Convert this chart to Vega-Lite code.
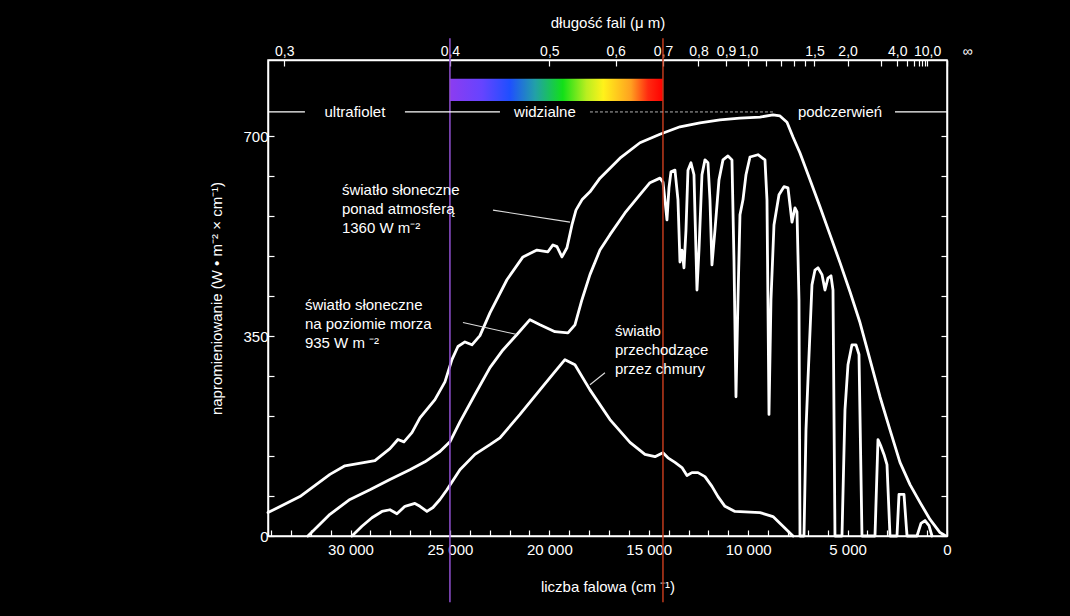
{
  "$schema": "https://vega.github.io/schema/vega-lite/v6.json",
  "width": 679,
  "height": 476,
  "autosize": {"type": "none"},
  "padding": {"left": 268, "top": 60, "right": 123, "bottom": 80},
  "background": "black",
  "config": {
    "view": {"stroke": "white", "strokeWidth": 1.5},
    "font": "Liberation Sans",
    "axis": {"domainColor": "white", "domainWidth": 1.5, "tickColor": "white", "tickWidth": 1.2, "labelColor": "white", "titleColor": "white", "labelFontSize": 15, "titleFontSize": 15, "titleFontWeight": "normal", "grid": false, "labelFont": "Liberation Sans", "titleFont": "Liberation Sans", "labelOverlap": false, "labelFlush": false}
  },
  "datasets": {
    "curves": [
      {"s":"atm","k":34150,"v":41},{"s":"atm","k":32544,"v":69},{"s":"atm","k":31035,"v":108},{"s":"atm","k":30281,"v":123},{"s":"atm","k":28772,"v":132},{"s":"atm","k":28017,"v":153},{"s":"atm","k":27615,"v":169},{"s":"atm","k":27313,"v":165},{"s":"atm","k":26911,"v":181},{"s":"atm","k":26508,"v":207},{"s":"atm","k":25754,"v":239},{"s":"atm","k":25251,"v":270},{"s":"atm","k":24899,"v":309},{"s":"atm","k":24597,"v":332},{"s":"atm","k":24245,"v":340},{"s":"atm","k":23893,"v":335},{"s":"atm","k":23490,"v":351},{"s":"atm","k":22987,"v":391},{"s":"atm","k":22132,"v":449},{"s":"atm","k":21327,"v":489},{"s":"atm","k":20623,"v":501},{"s":"atm","k":20070,"v":498},{"s":"atm","k":19818,"v":510},{"s":"atm","k":19617,"v":507},{"s":"atm","k":19366,"v":489},{"s":"atm","k":19114,"v":505},{"s":"atm","k":18863,"v":545},{"s":"atm","k":18661,"v":571},{"s":"atm","k":18360,"v":589},{"s":"atm","k":17957,"v":603},{"s":"atm","k":17454,"v":627},{"s":"atm","k":16448,"v":662},{"s":"atm","k":15442,"v":689},{"s":"atm","k":14436,"v":704},{"s":"atm","k":13430,"v":717},{"s":"atm","k":12424,"v":724},{"s":"atm","k":11418,"v":729},{"s":"atm","k":10412,"v":732},{"s":"atm","k":9406,"v":734},{"s":"atm","k":8752,"v":738},{"s":"atm","k":8400,"v":736},{"s":"atm","k":8048,"v":725},{"s":"atm","k":7746,"v":699},{"s":"atm","k":7394,"v":671},{"s":"atm","k":6891,"v":624},{"s":"atm","k":6388,"v":577},{"s":"atm","k":5885,"v":528},{"s":"atm","k":5382,"v":479},{"s":"atm","k":4879,"v":428},{"s":"atm","k":4376,"v":374},{"s":"atm","k":3873,"v":309},{"s":"atm","k":3370,"v":244},{"s":"atm","k":2867,"v":186},{"s":"atm","k":2364,"v":129},{"s":"atm","k":1861,"v":90},{"s":"atm","k":1358,"v":59},{"s":"atm","k":855,"v":29},{"s":"atm","k":352,"v":6},{"s":"atm","k":100,"v":1},
      {"s":"sea","k":32142,"v":0},{"s":"sea","k":31035,"v":38},{"s":"sea","k":30029,"v":64},{"s":"sea","k":29023,"v":81},{"s":"sea","k":28017,"v":99},{"s":"sea","k":27011,"v":116},{"s":"sea","k":26257,"v":130},{"s":"sea","k":25502,"v":148},{"s":"sea","k":24999,"v":165},{"s":"sea","k":24496,"v":200},{"s":"sea","k":23742,"v":248},{"s":"sea","k":22987,"v":295},{"s":"sea","k":22333,"v":326},{"s":"sea","k":21629,"v":353},{"s":"sea","k":20975,"v":379},{"s":"sea","k":20472,"v":370},{"s":"sea","k":19718,"v":358},{"s":"sea","k":19064,"v":356},{"s":"sea","k":18712,"v":370},{"s":"sea","k":18360,"v":414},{"s":"sea","k":17957,"v":458},{"s":"sea","k":17454,"v":501},{"s":"sea","k":16951,"v":528},{"s":"sea","k":16197,"v":566},{"s":"sea","k":15442,"v":598},{"s":"sea","k":14939,"v":619},{"s":"sea","k":14436,"v":627},{"s":"sea","k":14285,"v":620},{"s":"sea","k":14185,"v":589},{"s":"sea","k":14084,"v":554},{"s":"sea","k":13983,"v":610},{"s":"sea","k":13883,"v":638},{"s":"sea","k":13682,"v":641},{"s":"sea","k":13531,"v":589},{"s":"sea","k":13430,"v":480},{"s":"sea","k":13330,"v":501},{"s":"sea","k":13229,"v":470},{"s":"sea","k":13128,"v":536},{"s":"sea","k":13028,"v":641},{"s":"sea","k":12877,"v":654},{"s":"sea","k":12726,"v":633},{"s":"sea","k":12575,"v":431},{"s":"sea","k":12474,"v":501},{"s":"sea","k":12324,"v":633},{"s":"sea","k":12173,"v":659},{"s":"sea","k":12022,"v":654},{"s":"sea","k":11921,"v":589},{"s":"sea","k":11821,"v":475},{"s":"sea","k":11670,"v":536},{"s":"sea","k":11468,"v":624},{"s":"sea","k":11267,"v":659},{"s":"sea","k":11016,"v":666},{"s":"sea","k":10815,"v":659},{"s":"sea","k":10714,"v":484},{"s":"sea","k":10613,"v":244},{"s":"sea","k":10513,"v":414},{"s":"sea","k":10412,"v":563},{"s":"sea","k":10261,"v":589},{"s":"sea","k":10110,"v":633},{"s":"sea","k":9909,"v":664},{"s":"sea","k":9507,"v":668},{"s":"sea","k":9155,"v":659},{"s":"sea","k":9054,"v":589},{"s":"sea","k":8953,"v":213},{"s":"sea","k":8853,"v":414},{"s":"sea","k":8702,"v":545},{"s":"sea","k":8450,"v":598},{"s":"sea","k":8199,"v":612},{"s":"sea","k":7998,"v":610},{"s":"sea","k":7897,"v":580},{"s":"sea","k":7797,"v":550},{"s":"sea","k":7646,"v":575},{"s":"sea","k":7545,"v":568},{"s":"sea","k":7444,"v":414},{"s":"sea","k":7394,"v":0},{"s":"sea","k":7193,"v":0},{"s":"sea","k":7092,"v":186},{"s":"sea","k":6992,"v":274},{"s":"sea","k":6791,"v":440},{"s":"sea","k":6640,"v":466},{"s":"sea","k":6489,"v":470},{"s":"sea","k":6288,"v":458},{"s":"sea","k":6137,"v":431},{"s":"sea","k":5986,"v":452},{"s":"sea","k":5835,"v":456},{"s":"sea","k":5734,"v":431},{"s":"sea","k":5634,"v":0},{"s":"sea","k":5282,"v":0},{"s":"sea","k":5131,"v":221},{"s":"sea","k":4980,"v":300},{"s":"sea","k":4779,"v":335},{"s":"sea","k":4577,"v":335},{"s":"sea","k":4426,"v":318},{"s":"sea","k":4276,"v":0},{"s":"sea","k":3622,"v":0},{"s":"sea","k":3471,"v":169},{"s":"sea","k":3320,"v":157},{"s":"sea","k":3169,"v":143},{"s":"sea","k":3018,"v":125},{"s":"sea","k":2867,"v":0},{"s":"sea","k":2515,"v":0},{"s":"sea","k":2414,"v":73},{"s":"sea","k":2163,"v":73},{"s":"sea","k":2012,"v":0},{"s":"sea","k":1509,"v":0},{"s":"sea","k":1308,"v":22},{"s":"sea","k":1107,"v":27},{"s":"sea","k":905,"v":18},{"s":"sea","k":755,"v":0},
      {"s":"cloud","k":29929,"v":0},{"s":"cloud","k":29426,"v":17},{"s":"cloud","k":28923,"v":32},{"s":"cloud","k":28420,"v":43},{"s":"cloud","k":28017,"v":46},{"s":"cloud","k":27665,"v":39},{"s":"cloud","k":27263,"v":52},{"s":"cloud","k":26760,"v":57},{"s":"cloud","k":26508,"v":52},{"s":"cloud","k":26156,"v":43},{"s":"cloud","k":25854,"v":50},{"s":"cloud","k":25502,"v":64},{"s":"cloud","k":25150,"v":81},{"s":"cloud","k":24496,"v":116},{"s":"cloud","k":23742,"v":143},{"s":"cloud","k":22987,"v":160},{"s":"cloud","k":22484,"v":172},{"s":"cloud","k":21478,"v":213},{"s":"cloud","k":20472,"v":256},{"s":"cloud","k":19718,"v":288},{"s":"cloud","k":19215,"v":309},{"s":"cloud","k":18712,"v":300},{"s":"cloud","k":17957,"v":256},{"s":"cloud","k":16951,"v":204},{"s":"cloud","k":15945,"v":164},{"s":"cloud","k":15191,"v":143},{"s":"cloud","k":14688,"v":139},{"s":"cloud","k":14285,"v":146},{"s":"cloud","k":14034,"v":137},{"s":"cloud","k":13682,"v":129},{"s":"cloud","k":13330,"v":120},{"s":"cloud","k":13078,"v":106},{"s":"cloud","k":12827,"v":111},{"s":"cloud","k":12525,"v":111},{"s":"cloud","k":12173,"v":104},{"s":"cloud","k":11821,"v":87},{"s":"cloud","k":11519,"v":69},{"s":"cloud","k":11167,"v":52},{"s":"cloud","k":10664,"v":43},{"s":"cloud","k":9406,"v":41},{"s":"cloud","k":8752,"v":34},{"s":"cloud","k":8249,"v":17},{"s":"cloud","k":7746,"v":0}
    ],
    "notes": [
      {"k": 30432, "v": 619, "t": "światło słoneczne\nponad atmosferą\n1360 W m⁻²"},
      {"k": 32293, "v": 417, "t": "światło słoneczne\nna poziomie morza\n935 W m ⁻²"},
      {"k": 16700, "v": 372, "t": "światło\nprzechodzące\nprzez chmury"}
    ],
    "pointers": [
      {"k1": 22836, "v1": 571, "k2": 18963, "v2": 550},
      {"k1": 24345, "v1": 374, "k2": 21629, "v2": 353},
      {"k1": 17957, "v1": 265, "k2": 17203, "v2": 286}
    ],
    "regions": [
      {"k": 29778, "v": 743, "t": "ultrafiolet"},
      {"k": 20221, "v": 743, "t": "widzialne"},
      {"k": 5382, "v": 743, "t": "podczerwień"}
    ],
    "segs": [
      {"k1": 34150, "k2": 32293, "v": 743},
      {"k1": 27263, "k2": 22484, "v": 743},
      {"k1": 2616, "k2": 0, "v": 743}
    ],
    "dotted": [
      {"k1": 17957, "k2": 8652, "v": 743}
    ],
    "band": [
      {"k1": 25000, "k2": 14285.71, "v1": 762, "v2": 801}
    ],
    "vlines": [
      {"k": 25000, "lo": -116, "hi": 872, "c": "fiolet"},
      {"k": 14285.71, "lo": -116, "hi": 872, "c": "czerwień"}
    ],
    "axisdummy": [{"k": 0, "v": 0}]
  },
  "layer": [
    {
      "data": {"name": "curves"},
      "mark": {"type": "line", "color": "white", "strokeWidth": 2.8, "strokeJoin": "round", "strokeCap": "round"},
      "encoding": {
        "x": {"field": "k", "type": "quantitative", "scale": {"domain": [0, 34150], "reverse": true, "nice": false, "zero": false},
          "axis": {"orient": "bottom", "title": "liczba falowa (cm ⁻¹)", "values": [0,1000,2000,3000,4000,5000,6000,7000,8000,9000,10000,11000,12000,13000,14000,15000,16000,17000,18000,19000,20000,21000,22000,23000,24000,25000,26000,27000,28000,29000,30000,31000,32000,33000,34000],
            "labelExpr": "datum.value % 5000 == 0 ? replace(format(datum.value, ','), ',', ' ') : ''", "tickSize": -6, "labelPadding": 12, "titlePadding": 22}},
        "y": {"field": "v", "type": "quantitative", "scale": {"domain": [0, 834], "nice": false, "zero": false},
          "axis": {"orient": "left", "title": "napromieniowanie (W • m⁻² × cm⁻¹)", "values": [0,70,140,210,280,350,420,490,560,630,700],
            "labelExpr": "datum.value % 350 == 0 ? datum.value : ''", "tickSize": -6, "labelPadding": 6, "titlePadding": 18}},
        "detail": {"field": "s"}
      }
    },
    {
      "data": {"name": "axisdummy"},
      "mark": {"type": "point", "opacity": 0},
      "encoding": {
        "x": {"field": "k", "type": "quantitative", "scale": {"domain": [0, 34150], "reverse": true, "nice": false, "zero": false},
          "axis": {"orient": "top", "title": "długość fali (μ m)", "values": [33333.33,25000,20000,16666.67,14285.71,12500,11111.11,10000,9090.91,8333.33,7692.31,7142.86,6666.67,5000,3333.33,2500,2000,1666.67,1428.57,1250,1111.11,1000,0],
            "labelExpr": "datum.value == 0 ? '∞' : (indexof([33333.33,25000,20000,16666.67,14285.71,12500,11111.11,10000,6666.67,5000,2500,1000], datum.value) >= 0 ? replace(format(10000 / datum.value, '.1f'), '.', ',') : '')",
            "labelOffset": {"condition": {"test": "datum.value == 0", "value": 20}, "value": 0},
            "labelFontSize": 14, "tickSize": -6, "labelPadding": 8, "titlePadding": 14}},
        "y": {"field": "v", "type": "quantitative", "scale": {"domain": [0, 834], "nice": false, "zero": false},
          "axis": {"orient": "right", "title": null, "labels": false, "values": [0,70,140,210,280,350,420,490,560,630,700], "tickSize": -6}}
      }
    },
    {
      "data": {"name": "band"},
      "mark": {"type": "rect", "fill": {"gradient": "linear", "x1": 0, "y1": 0, "x2": 1, "y2": 0, "stops": [
        {"offset": 0, "color": "#8c3cf0"}, {"offset": 0.15, "color": "#6644ff"}, {"offset": 0.28, "color": "#1f4fff"}, {"offset": 0.4, "color": "#22a0a8"}, {"offset": 0.53, "color": "#12e018"}, {"offset": 0.64, "color": "#b8ee20"}, {"offset": 0.72, "color": "#fff21a"}, {"offset": 0.85, "color": "#ffa020"}, {"offset": 0.93, "color": "#ff2a10"}, {"offset": 1, "color": "#ff0000"}]}},
      "encoding": {
        "x": {"field": "k1", "type": "quantitative", "scale": {"domain": [0, 34150], "reverse": true, "nice": false, "zero": false}, "axis": null},
        "x2": {"field": "k2"},
        "y": {"field": "v1", "type": "quantitative", "scale": {"domain": [0, 834], "nice": false, "zero": false}, "axis": null},
        "y2": {"field": "v2"}
      }
    },
    {
      "data": {"name": "vlines"},
      "mark": {"type": "rule", "strokeWidth": 1.5},
      "encoding": {
        "x": {"field": "k", "type": "quantitative", "scale": {"domain": [0, 34150], "reverse": true, "nice": false, "zero": false}, "axis": null},
        "y": {"field": "lo", "type": "quantitative", "scale": {"domain": [0, 834], "nice": false, "zero": false}, "axis": null},
        "y2": {"field": "hi"},
        "color": {"field": "c", "type": "nominal", "scale": {"domain": ["fiolet", "czerwień"], "range": ["#9050d0", "#c03a1c"]}, "legend": null}
      }
    },
    {
      "data": {"name": "segs"},
      "mark": {"type": "rule", "color": "white", "strokeWidth": 1.3},
      "encoding": {
        "x": {"field": "k1", "type": "quantitative", "scale": {"domain": [0, 34150], "reverse": true, "nice": false, "zero": false}, "axis": null},
        "x2": {"field": "k2"},
        "y": {"field": "v", "type": "quantitative", "scale": {"domain": [0, 834], "nice": false, "zero": false}, "axis": null}
      }
    },
    {
      "data": {"name": "dotted"},
      "mark": {"type": "rule", "color": "#b0b0b0", "strokeWidth": 1, "strokeDash": [3, 2]},
      "encoding": {
        "x": {"field": "k1", "type": "quantitative", "scale": {"domain": [0, 34150], "reverse": true, "nice": false, "zero": false}, "axis": null},
        "x2": {"field": "k2"},
        "y": {"field": "v", "type": "quantitative", "scale": {"domain": [0, 834], "nice": false, "zero": false}, "axis": null}
      }
    },
    {
      "data": {"name": "regions"},
      "mark": {"type": "text", "color": "white", "fontSize": 15, "align": "center", "baseline": "middle", "font": "Liberation Sans"},
      "encoding": {
        "x": {"field": "k", "type": "quantitative", "scale": {"domain": [0, 34150], "reverse": true, "nice": false, "zero": false}, "axis": null},
        "y": {"field": "v", "type": "quantitative", "scale": {"domain": [0, 834], "nice": false, "zero": false}, "axis": null},
        "text": {"field": "t"}
      }
    },
    {
      "data": {"name": "pointers"},
      "mark": {"type": "rule", "color": "#dddddd", "strokeWidth": 1.1},
      "encoding": {
        "x": {"field": "k1", "type": "quantitative", "scale": {"domain": [0, 34150], "reverse": true, "nice": false, "zero": false}, "axis": null},
        "x2": {"field": "k2"},
        "y": {"field": "v1", "type": "quantitative", "scale": {"domain": [0, 834], "nice": false, "zero": false}, "axis": null},
        "y2": {"field": "v2"}
      }
    },
    {
      "data": {"name": "notes"},
      "mark": {"type": "text", "color": "white", "fontSize": 15, "align": "left", "baseline": "top", "lineBreak": "\n", "lineHeight": 19, "font": "Liberation Sans"},
      "encoding": {
        "x": {"field": "k", "type": "quantitative", "scale": {"domain": [0, 34150], "reverse": true, "nice": false, "zero": false}, "axis": null},
        "y": {"field": "v", "type": "quantitative", "scale": {"domain": [0, 834], "nice": false, "zero": false}, "axis": null},
        "text": {"field": "t"}
      }
    }
  ],
  "resolve": {"axis": {"x": "independent", "y": "independent"}}
}
